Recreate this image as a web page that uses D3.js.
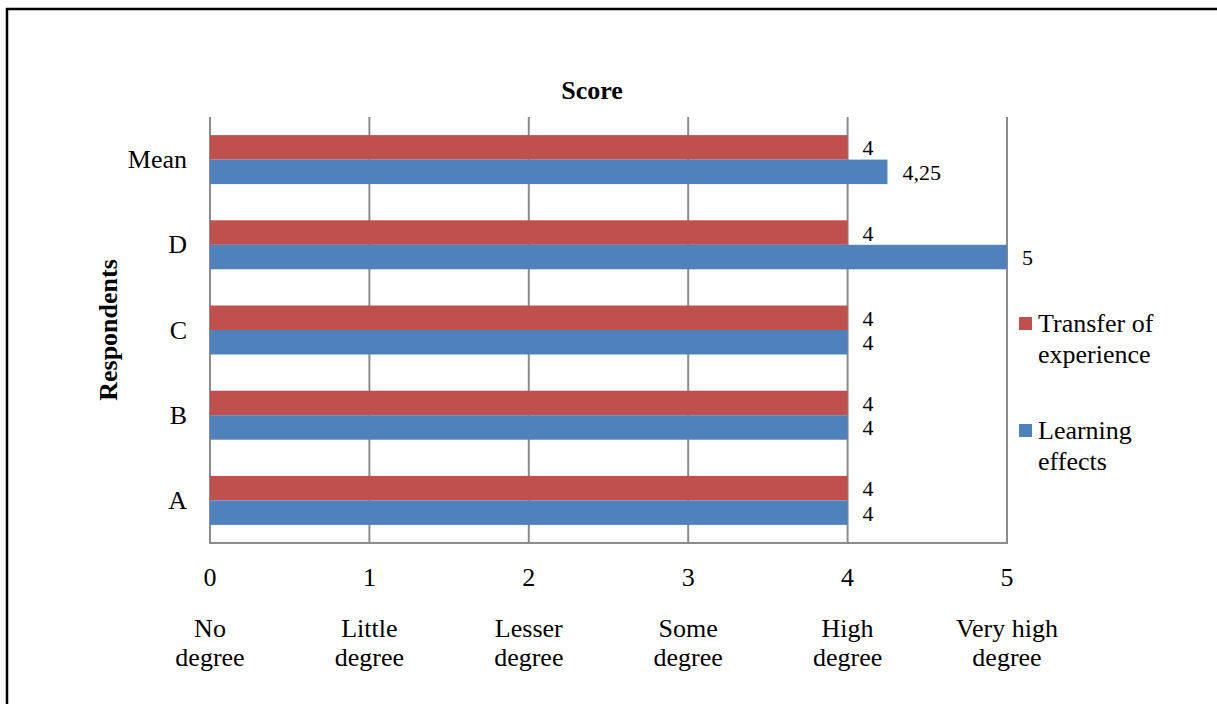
<!DOCTYPE html>
<html>
<head>
<meta charset="utf-8">
<script src="https://cdn.jsdelivr.net/npm/d3@7"></script>
<style>
  body { margin: 0; background: #fff; }
  svg { display: block; }
  text { font-family: "Liberation Serif", "Times New Roman", serif; }
</style>
</head>
<body>
<div id="chart"></div>
<script>
const respondents = ["Mean", "D", "C", "B", "A"];
const seriesNames = ["Transfer of experience", "Learning effects"];
const transferValues = [4, 4, 4, 4, 4];
const learningValues = [4.25, 5, 4, 4, 4];
const scoreTicks = [0, 1, 2, 3, 4, 5];
const degreeLabels = [
  ["No", "degree"],
  ["Little", "degree"],
  ["Lesser", "degree"],
  ["Some", "degree"],
  ["High", "degree"],
  ["Very high", "degree"]
];
const legendLines = [["Transfer of", "experience"], ["Learning", "effects"]];
const colors = ["#C0504D", "#4F81BD"];

const width = 1217;
const height = 704;
const fontSize = 26;
const serif = "'Liberation Serif', 'Times New Roman', serif";

const svg = d3.select("#chart")
  .append("svg")
  .attr("width", width)
  .attr("height", height)
  .attr("viewBox", [0, 0, width, height])
  .attr("font-family", serif);

// outer frame (runs off right / bottom edge like the source)
svg.append("rect")
  .attr("x", 7)
  .attr("y", 9)
  .attr("width", 1230)
  .attr("height", 720)
  .attr("fill", "none")
  .attr("stroke", "#000")
  .attr("stroke-width", 2.5);

const x = d3.scaleLinear().domain([0, 5]).range([210, 1007]);
const y = d3.scaleBand()
  .domain(respondents)
  .range([117, 543])
  .paddingInner(0.425)
  .paddingOuter(0.2125);
const ySub = d3.scaleBand()
  .domain(seriesNames)
  .range([0, y.bandwidth()]);

const rows = respondents.map((r, i) => ({
  name: r,
  values: [
    { series: seriesNames[0], value: transferValues[i] },
    { series: seriesNames[1], value: learningValues[i] }
  ]
}));

// vertical gridlines
svg.append("g")
  .selectAll("line")
  .data(scoreTicks)
  .join("line")
  .attr("x1", d => x(d))
  .attr("x2", d => x(d))
  .attr("y1", 117)
  .attr("y2", 543)
  .attr("stroke", "#8c8c8c")
  .attr("stroke-width", 2);

// bars
const groups = svg.append("g")
  .selectAll("g")
  .data(rows)
  .join("g")
  .attr("transform", d => `translate(0,${y(d.name)})`);

groups.selectAll("rect")
  .data(d => d.values)
  .join("rect")
  .attr("x", x(0))
  .attr("y", d => ySub(d.series))
  .attr("width", d => x(d.value) - x(0))
  .attr("height", ySub.bandwidth())
  .attr("fill", (d, i) => colors[i]);

// value labels (a bit smaller so stacked labels don't collide)
groups.selectAll("text")
  .data(d => d.values)
  .join("text")
  .attr("x", d => x(d.value) + 15)
  .attr("y", d => ySub(d.series) + ySub.bandwidth() / 2 + 8)
  .attr("font-size", 22)
  .attr("fill", "#000")
  .text(d => String(d.value).replace(".", ","));

// bottom axis line
svg.append("line")
  .attr("x1", x(0) - 1)
  .attr("x2", x(5) + 1)
  .attr("y1", 543)
  .attr("y2", 543)
  .attr("stroke", "#8c8c8c")
  .attr("stroke-width", 2);

// category labels
svg.append("g")
  .selectAll("text")
  .data(respondents)
  .join("text")
  .attr("x", 187)
  .attr("y", d => y(d) + y.bandwidth() / 2 + 8.5)
  .attr("text-anchor", "end")
  .attr("font-size", fontSize)
  .text(d => d);

// score ticks
svg.append("g")
  .selectAll("text")
  .data(scoreTicks)
  .join("text")
  .attr("x", d => x(d))
  .attr("y", 586)
  .attr("text-anchor", "middle")
  .attr("font-size", fontSize)
  .text(d => d);

// degree labels under the ticks
const deg = svg.append("g")
  .selectAll("text")
  .data(scoreTicks)
  .join("text")
  .attr("text-anchor", "middle")
  .attr("font-size", fontSize);
deg.selectAll("tspan")
  .data((d, i) => degreeLabels[i].map(t => ({ t, v: d })))
  .join("tspan")
  .attr("x", d => x(d.v))
  .attr("y", (d, i) => 637 + i * 29)
  .text(d => d.t);

// titles
svg.append("text")
  .attr("x", 592)
  .attr("y", 99)
  .attr("text-anchor", "middle")
  .attr("font-size", fontSize)
  .attr("font-weight", "bold")
  .text("Score");

svg.append("text")
  .attr("transform", "translate(117,330) rotate(-90)")
  .attr("text-anchor", "middle")
  .attr("font-size", fontSize)
  .attr("font-weight", "bold")
  .text("Respondents");

// legend
const legend = svg.append("g")
  .selectAll("g")
  .data(seriesNames)
  .join("g")
  .attr("transform", (d, i) => `translate(1019,${i === 0 ? 317 : 424})`);

legend.append("rect")
  .attr("width", 13)
  .attr("height", 13)
  .attr("fill", (d, i) => colors[i]);

legend.append("text")
  .attr("font-size", fontSize)
  .selectAll("tspan")
  .data((d, i) => legendLines[i])
  .join("tspan")
  .attr("x", 19)
  .attr("y", (d, i) => 15 + i * 31)
  .text(d => d);
</script>
</body>
</html>
